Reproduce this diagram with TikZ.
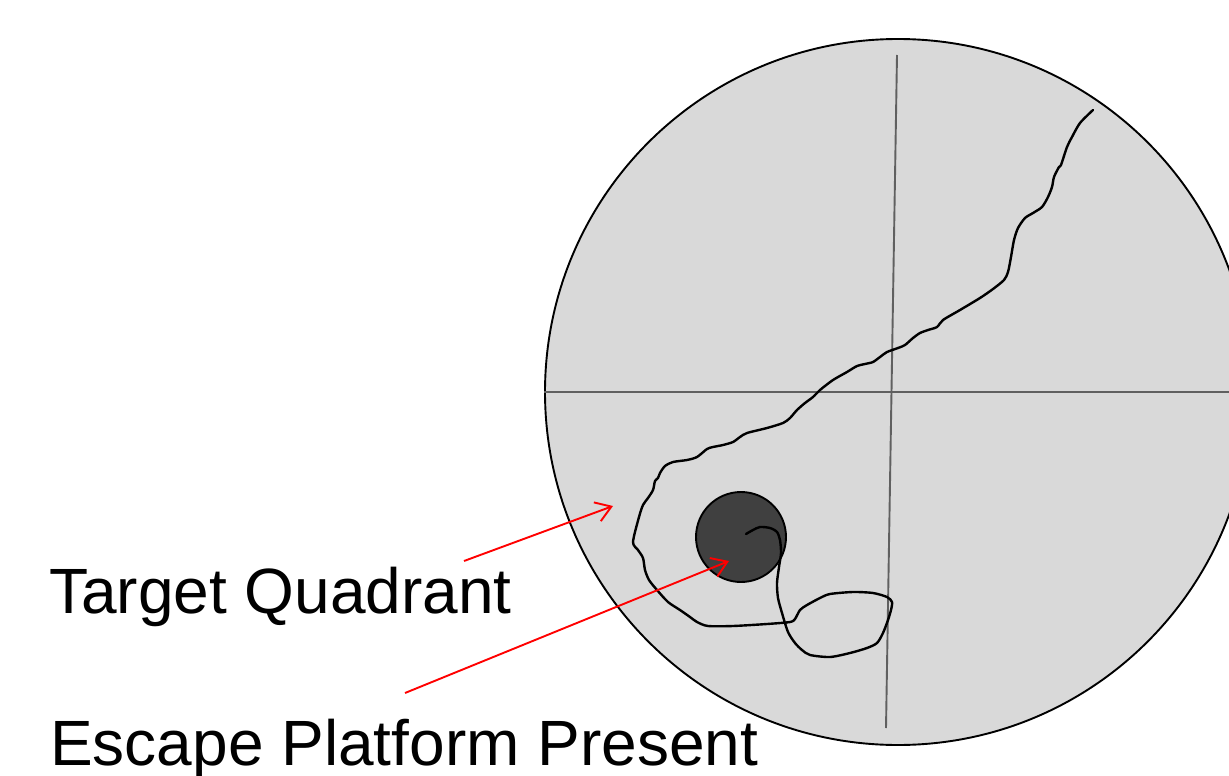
\documentclass[tikz,border=0pt]{standalone}
\usepackage{fontspec}
\setmainfont{Liberation Sans}
\usetikzlibrary{arrows.meta}
\definecolor{pool}{HTML}{D9D9D9}
\definecolor{plat}{HTML}{404040}
\definecolor{axis}{HTML}{606060}
\tikzset{
  label/.style={anchor=base west, inner sep=0pt, font=\fontsize{64}{64}\selectfont},
  pointer/.style={draw=red, line width=1.9pt, -{Straight Barb[length=15pt,width=20pt,line width=1.9pt]}},
  axisline/.style={draw=axis, line width=1.9pt},
  swim/.style={draw=black, line width=2.4pt, line join=round, line cap=round},
}
\begin{document}
\begin{tikzpicture}[x=1pt,y=-1pt]
\useasboundingbox (0,0) rectangle (1229,776);
\clip (0,0) rectangle (1229,776);
% pool
\draw[fill=pool, line width=1.9pt] (898,392) circle[radius=353];
% quadrant axes
\coordinate (hl) at (544,392);
\coordinate (hr) at (1229,392);
\coordinate (vt) at (897,55);
\coordinate (vb) at (886,728);
\path[axisline] (hl) -- (hr);
\path[axisline] (vt) -- (vb);
% platform
\node[circle, draw=black, line width=1.9pt, fill=plat, minimum size=90pt, inner sep=0pt] (platform) at (741,537) {};
% swim path
\draw[swim] plot[smooth, tension=0.45] coordinates {
(1093,110) (1080,123) (1072,137) (1067,147) (1061,165) (1059,167) (1054,177)
(1052,187) (1048,197) (1042,207) (1033,213) (1025,218) (1018,228) (1014,240)
(1011,257) (1008,272) (1004,280) (993,289) (980,298) (960,310) (943,320)
(937,327) (928,330) (920,333) (913,338) (905,345) (898,348) (887,352)
(880,357) (873,362) (865,364) (857,366) (847,372) (833,380) (820,390)
(813,397) (805,403) (797,410) (790,418) (783,423) (767,428) (747,433)
(740,437) (733,442) (723,445) (713,447) (707,449) (697,457) (687,460)
(673,462) (665,466) (660,473) (658,478) (655,481) (653,490) (648,498)
(643,505) (639,517) (633,542) (638,550) (643,558) (645,570) (649,580)
(657,590) (668,602) (680,610) (690,617) (697,622) (708,626) (733,626)
(767,624) (790,622) (795,619) (800,610) (807,605) (820,598) (830,594)
(853,592) (873,593) (887,597) (892,602) (891,610) (888,620) (883,633)
(877,643) (867,648) (850,653) (830,657) (810,655) (802,650) (795,643)
(788,632) (782,613) (778,598) (777,583) (779,567) (781,553) (780,540)
(777,532) (770,528) (760,527) (753,530) (746,534)};
% labels
\node[label] (tq) at (49,613) {Target Quadrant};
\node[label] (ep) at (50,765) {Escape Platform Present};
\coordinate (tqs) at (464,561);
\coordinate (tqt) at (613,506);
\coordinate (eps) at (405,693);
\coordinate (ept) at (729,561);
\path[pointer] (tqs) -- (tqt);
\path[pointer] (eps) -- (ept);
\end{tikzpicture}
\end{document}
